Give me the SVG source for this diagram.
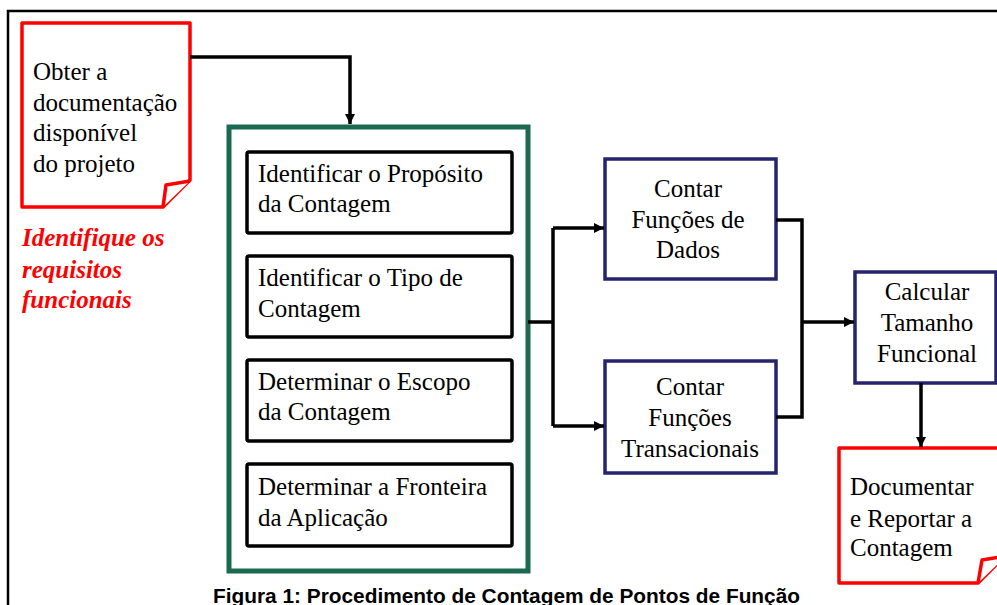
<svg xmlns="http://www.w3.org/2000/svg" width="997" height="605" viewBox="0 0 997 605">
<defs>
<style>
.t{font-family:"Liberation Serif","Times New Roman",serif;font-size:25px;fill:#000}
.c{text-anchor:middle}
.red{font-family:"Liberation Serif","Times New Roman",serif;font-size:25px;font-weight:bold;font-style:italic;fill:#ff0000}
.doc{fill:#fff;stroke:#ff0000;stroke-width:3.5;stroke-linejoin:round}
.step{fill:#fff;stroke:#000;stroke-width:3.5}
.navy{fill:#fff;stroke:#25256e;stroke-width:3.5}
.conn{fill:none;stroke:#000;stroke-width:3.5}
</style>
<marker id="ah" markerUnits="userSpaceOnUse" markerWidth="12" markerHeight="12" refX="10" refY="5" orient="auto">
<path d="M0,0 L10,5 L0,10 Z" fill="#000"/>
</marker>
</defs>
<rect width="997" height="605" fill="#fff"/>
<path d="M8,605 V11 H997" fill="none" stroke="#000" stroke-width="2.5"/>

<g id="doc-obter">
<path class="doc" d="M22,23 H190 V180 L163,207 H22 Z"/>
<path class="doc" d="M190,181 L166,185 L163,207"/>
<text class="t" x="33" y="80">Obter a</text>
<text class="t" x="33" y="111">documentação</text>
<text class="t" x="33" y="141">disponível</text>
<text class="t" x="33" y="172">do projeto</text>
</g>

<g id="note-requisitos">
<text class="red" x="22" y="246">Identifique os</text>
<text class="red" x="22" y="278">requisitos</text>
<text class="red" x="22" y="308">funcionais</text>
</g>

<g id="group-steps">
<rect x="229" y="127" width="299" height="444" fill="#fff" stroke="#1b6a4f" stroke-width="5"/>
</g>

<g id="step-proposito">
<rect class="step" x="247" y="152" width="265" height="81" rx="2"/>
<text class="t" x="258" y="182">Identificar o Propósito</text>
<text class="t" x="258" y="212">da Contagem</text>
</g>
<g id="step-tipo">
<rect class="step" x="247" y="256" width="265" height="81" rx="2"/>
<text class="t" x="258" y="286">Identificar o Tipo de</text>
<text class="t" x="258" y="317">Contagem</text>
</g>
<g id="step-escopo">
<rect class="step" x="247" y="360" width="265" height="81" rx="2"/>
<text class="t" x="258" y="390">Determinar o Escopo</text>
<text class="t" x="258" y="420">da Contagem</text>
</g>
<g id="step-fronteira">
<rect class="step" x="247" y="464" width="265" height="82" rx="2"/>
<text class="t" x="258" y="495">Determinar a Fronteira</text>
<text class="t" x="258" y="526">da Aplicação</text>
</g>

<g id="contar-dados">
<rect class="navy" x="605" y="159" width="171" height="120"/>
<text class="t c" x="688" y="197">Contar</text>
<text class="t c" x="688" y="228">Funções de</text>
<text class="t c" x="688" y="258">Dados</text>
</g>
<g id="contar-transacionais">
<rect class="navy" x="605" y="361" width="171" height="112"/>
<text class="t c" x="690" y="395">Contar</text>
<text class="t c" x="690" y="426">Funções</text>
<text class="t c" x="690" y="457">Transacionais</text>
</g>
<g id="calcular">
<rect class="navy" x="855" y="272" width="141" height="111"/>
<text class="t c" x="927" y="300">Calcular</text>
<text class="t c" x="927" y="331">Tamanho</text>
<text class="t c" x="927" y="362">Funcional</text>
</g>
<g id="doc-documentar">
<path class="doc" d="M839,448 H1006 V555 L978,583 H839 Z"/>
<path class="doc" d="M1006,556 L982,560 L978,583"/>
<text class="t" x="850" y="495">Documentar</text>
<text class="t" x="850" y="527">e Reportar a</text>
<text class="t" x="850" y="556">Contagem</text>
</g>

<g id="connectors">
<path class="conn" d="M190,57 H350 V124" marker-end="url(#ah)"/>
<path class="conn" d="M528,322 H553"/>
<path class="conn" d="M553,228 V426"/>
<path class="conn" d="M553,228 H604" marker-end="url(#ah)"/>
<path class="conn" d="M553,426 H604" marker-end="url(#ah)"/>
<path class="conn" d="M776,220 H802 V417 H776"/>
<path class="conn" d="M802,322 H854" marker-end="url(#ah)"/>
<path class="conn" d="M921,383 V447" marker-end="url(#ah)"/>
</g>

<text x="213" y="603" textLength="587" lengthAdjust="spacingAndGlyphs" font-family="'Liberation Sans',Arial,sans-serif" font-size="20" font-weight="bold" fill="#000">Figura 1: Procedimento de Contagem de Pontos de Função</text>
</svg>
